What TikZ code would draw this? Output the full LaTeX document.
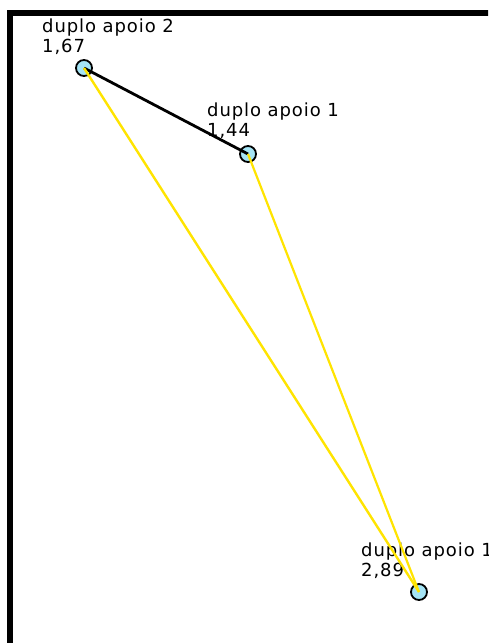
\documentclass[tikz,border=0pt]{standalone}
\usepackage{fontspec}
\newfontfamily\lblfont[LetterSpace=5]{DejaVu Sans}
\definecolor{apoiocyan}{RGB}{165,228,245}
\definecolor{apoioyellow}{RGB}{255,228,0}
\tikzset{apoio/.style={circle,draw=black,fill=apoiocyan,line width=1.8pt,minimum size=16pt,inner sep=0pt},
	lbl/.style={anchor=base west,inner sep=0pt,align=left,font=\lblfont\fontsize{18}{19.5}\selectfont}}
\begin{document}
\begin{tikzpicture}[x=1pt,y=-1pt]
	\useasboundingbox (0,0) rectangle (488,643);
	\clip (0,0) rectangle (488,643);
	\fill[white] (0,0) rectangle (488,643);
	\draw[line width=6pt] (10,650) -- (10,13) -- (495,13);
	\node[apoio] (n2) at (84,68) {}; \node[lbl] (l2) at (42,52) {duplo apoio 2\\1,67};
	\node[apoio] (n1) at (248,154) {}; \node[lbl] (l1) at (207,136) {duplo apoio 1\\1,44};
	\node[apoio] (n3) at (419,592) {}; \node[lbl] (l3) at (361,576) {duplo apoio 1\\2,89};
	\draw[line width=2.8pt] (n2.center) -- (n1.center);
	\draw[apoioyellow,line width=2.4pt] (n2.center) -- (n3.center);
	\draw[apoioyellow,line width=2.2pt] (n1.center) -- (n3.center);
	%\draw[->,>=latex] (n1) to[bend left] (n3);
\end{tikzpicture}
\end{document}
